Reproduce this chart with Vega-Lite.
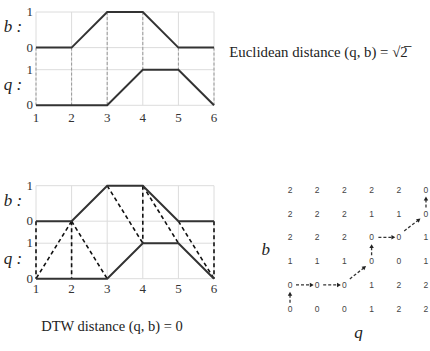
{
  "$schema": "https://vega.github.io/schema/vega-lite/v6.json",
  "background": "white",
  "padding": {"left": 3, "top": 6, "right": 0, "bottom": 0},
  "config": {
    "view": {"stroke": null},
    "font": "Liberation Serif",
    "axis": {"ticks": false, "domain": false}
  },
  "columns": 2,
  "bounds": "flush",
  "spacing": {"row": 79.7, "column": 66.5},
  "datasets": {
    "series": [
      {"series": "b", "t": 1, "v": 0}, {"series": "b", "t": 2, "v": 0}, {"series": "b", "t": 3, "v": 1},
      {"series": "b", "t": 4, "v": 1}, {"series": "b", "t": 5, "v": 0}, {"series": "b", "t": 6, "v": 0},
      {"series": "q", "t": 1, "v": 0}, {"series": "q", "t": 2, "v": 0}, {"series": "q", "t": 3, "v": 0},
      {"series": "q", "t": 4, "v": 1}, {"series": "q", "t": 5, "v": 1}, {"series": "q", "t": 6, "v": 0}
    ],
    "ticks": [{"t": 1}, {"t": 2}, {"t": 3}, {"t": 4}, {"t": 5}, {"t": 6}],
    "levels": [{"level": 0, "lab": "0"}, {"level": 1, "lab": "1"}, {"level": 1.62, "lab": "0"}, {"level": 2.62, "lab": "1"}],
    "euc": [
      {"t": 1, "b": 0, "q": 0}, {"t": 2, "b": 0, "q": 0}, {"t": 3, "b": 1, "q": 0},
      {"t": 4, "b": 1, "q": 1}, {"t": 5, "b": 0, "q": 1}, {"t": 6, "b": 0, "q": 0}
    ],
    "dtw": [
      {"bt": 1, "bv": 0, "qt": 1, "qv": 0}, {"bt": 2, "bv": 0, "qt": 1, "qv": 0},
      {"bt": 2, "bv": 0, "qt": 2, "qv": 0}, {"bt": 2, "bv": 0, "qt": 3, "qv": 0},
      {"bt": 3, "bv": 1, "qt": 4, "qv": 1}, {"bt": 4, "bv": 1, "qt": 4, "qv": 1},
      {"bt": 4, "bv": 1, "qt": 5, "qv": 1}, {"bt": 5, "bv": 0, "qt": 6, "qv": 0},
      {"bt": 6, "bv": 0, "qt": 6, "qv": 0}
    ],
    "names": [{"name": "b :", "level": 2.2}, {"name": "q :", "level": 0.56}],
    "matrix": [
      {"col": 1, "row": 6, "val": 2}, {"col": 2, "row": 6, "val": 2}, {"col": 3, "row": 6, "val": 2}, {"col": 4, "row": 6, "val": 2}, {"col": 5, "row": 6, "val": 2}, {"col": 6, "row": 6, "val": 0},
      {"col": 1, "row": 5, "val": 2}, {"col": 2, "row": 5, "val": 2}, {"col": 3, "row": 5, "val": 2}, {"col": 4, "row": 5, "val": 1}, {"col": 5, "row": 5, "val": 1}, {"col": 6, "row": 5, "val": 0},
      {"col": 1, "row": 4, "val": 2}, {"col": 2, "row": 4, "val": 2}, {"col": 3, "row": 4, "val": 2}, {"col": 4, "row": 4, "val": 0}, {"col": 5, "row": 4, "val": 0}, {"col": 6, "row": 4, "val": 1},
      {"col": 1, "row": 3, "val": 1}, {"col": 2, "row": 3, "val": 1}, {"col": 3, "row": 3, "val": 1}, {"col": 4, "row": 3, "val": 0}, {"col": 5, "row": 3, "val": 0}, {"col": 6, "row": 3, "val": 1},
      {"col": 1, "row": 2, "val": 0}, {"col": 2, "row": 2, "val": 0}, {"col": 3, "row": 2, "val": 0}, {"col": 4, "row": 2, "val": 1}, {"col": 5, "row": 2, "val": 2}, {"col": 6, "row": 2, "val": 2},
      {"col": 1, "row": 1, "val": 0}, {"col": 2, "row": 1, "val": 0}, {"col": 3, "row": 1, "val": 0}, {"col": 4, "row": 1, "val": 1}, {"col": 5, "row": 1, "val": 2}, {"col": 6, "row": 1, "val": 2}
    ],
    "arrows": [
      {"x1": 1, "y1": 1.25, "x2": 1, "y2": 1.63, "dir": "up"},
      {"x1": 1.22, "y1": 2, "x2": 1.8, "y2": 2, "dir": "right"},
      {"x1": 2.22, "y1": 2, "x2": 2.8, "y2": 2, "dir": "right"},
      {"x1": 3.2, "y1": 2.25, "x2": 3.74, "y2": 2.74, "dir": "diag"},
      {"x1": 4, "y1": 3.25, "x2": 4, "y2": 3.63, "dir": "up"},
      {"x1": 4.25, "y1": 4, "x2": 4.8, "y2": 4, "dir": "right"},
      {"x1": 5.2, "y1": 4.27, "x2": 5.74, "y2": 4.74, "dir": "diag"},
      {"x1": 6, "y1": 5.25, "x2": 6, "y2": 5.63, "dir": "up"}
    ]
  },
  "concat": [
    {
      "width": 178,
      "height": 93.3,
      "encoding": {
        "x": {"type": "quantitative", "scale": {"domain": [1, 6], "nice": false, "zero": false}, "axis": null},
        "y": {"type": "quantitative", "scale": {"domain": [0, 2.62], "nice": false, "zero": false}, "axis": null}
      },
      "layer": [
        {
          "data": {"name": "ticks"},
          "mark": {"type": "rule", "color": "#dcdcdc", "strokeWidth": 1},
          "encoding": {"x": {"field": "t", "type": "quantitative"}, "y": {"datum": 0, "type": "quantitative"}, "y2": {"datum": 2.62}}
        },
        {
          "data": {"name": "levels"},
          "mark": {"type": "rule", "color": "#dcdcdc", "strokeWidth": 1},
          "encoding": {"y": {"field": "level", "type": "quantitative"}, "x": {"datum": 1, "type": "quantitative"}, "x2": {"datum": 6}}
        },
        {
          "data": {"name": "euc"},
          "transform": [{"calculate": "datum.b + 1.62", "as": "yb"}],
          "mark": {"type": "rule", "color": "#999", "strokeWidth": 1, "strokeDash": [3, 2]},
          "encoding": {"x": {"field": "t", "type": "quantitative"}, "y": {"field": "yb", "type": "quantitative"}, "y2": {"field": "q"}}
        },
        {
          "data": {"name": "series"},
          "transform": [{"calculate": "datum.v + (datum.series == 'b' ? 1.62 : 0)", "as": "yv"}],
          "mark": {"type": "line", "color": "#333", "strokeWidth": 2},
          "encoding": {"x": {"field": "t", "type": "quantitative"}, "y": {"field": "yv", "type": "quantitative"}, "detail": {"field": "series"}}
        },
        {
          "data": {"name": "ticks"},
          "mark": {"type": "text", "font": "Liberation Serif", "fontSize": 13, "color": "#333", "dy": 13},
          "encoding": {"x": {"field": "t", "type": "quantitative"}, "y": {"datum": 0, "type": "quantitative"}, "text": {"field": "t"}}
        },
        {
          "data": {"name": "levels"},
          "mark": {"type": "text", "font": "Liberation Serif", "fontSize": 13, "color": "#333", "dx": -3, "align": "right"},
          "encoding": {"y": {"field": "level", "type": "quantitative"}, "x": {"datum": 1, "type": "quantitative"}, "text": {"field": "lab"}}
        },
        {
          "data": {"name": "names"},
          "mark": {"type": "text", "font": "Liberation Serif", "fontStyle": "italic", "fontSize": 17, "dx": -23, "color": "#222"},
          "encoding": {"x": {"datum": 1, "type": "quantitative"}, "y": {"field": "level", "type": "quantitative"}, "text": {"field": "name"}}
        }
      ]
    },
    {
      "width": 76,
      "height": 82.6,
      "data": {"values": [{"label": "Euclidean distance (q, b) = √2̅"}]},
      "mark": {"type": "text", "font": "Liberation Serif", "fontSize": 14.8, "color": "#222"},
      "encoding": {"text": {"field": "label"}}
    },
    {
      "width": 178,
      "height": 93,
      "title": {"text": "DTW distance (q, b) = 0", "orient": "bottom", "anchor": "middle", "font": "Liberation Serif", "fontSize": 14.5, "fontWeight": "normal", "color": "#222", "offset": 24, "dx": -13},
      "encoding": {
        "x": {"type": "quantitative", "scale": {"domain": [1, 6], "nice": false, "zero": false}, "axis": null},
        "y": {"type": "quantitative", "scale": {"domain": [0, 2.62], "nice": false, "zero": false}, "axis": null}
      },
      "layer": [
        {
          "data": {"name": "ticks"},
          "mark": {"type": "rule", "color": "#dcdcdc", "strokeWidth": 1},
          "encoding": {"x": {"field": "t", "type": "quantitative"}, "y": {"datum": 0, "type": "quantitative"}, "y2": {"datum": 2.62}}
        },
        {
          "data": {"name": "levels"},
          "mark": {"type": "rule", "color": "#dcdcdc", "strokeWidth": 1},
          "encoding": {"y": {"field": "level", "type": "quantitative"}, "x": {"datum": 1, "type": "quantitative"}, "x2": {"datum": 6}}
        },
        {
          "data": {"name": "dtw"},
          "transform": [{"calculate": "datum.bv + 1.62", "as": "yb"}],
          "mark": {"type": "rule", "color": "#111", "strokeWidth": 1.6, "strokeDash": [4, 3]},
          "encoding": {"x": {"field": "bt", "type": "quantitative"}, "y": {"field": "yb", "type": "quantitative"}, "x2": {"field": "qt"}, "y2": {"field": "qv"}}
        },
        {
          "data": {"name": "series"},
          "transform": [{"calculate": "datum.v + (datum.series == 'b' ? 1.62 : 0)", "as": "yv"}],
          "mark": {"type": "line", "color": "#333", "strokeWidth": 2},
          "encoding": {"x": {"field": "t", "type": "quantitative"}, "y": {"field": "yv", "type": "quantitative"}, "detail": {"field": "series"}}
        },
        {
          "data": {"name": "ticks"},
          "mark": {"type": "text", "font": "Liberation Serif", "fontSize": 13, "color": "#333", "dy": 10},
          "encoding": {"x": {"field": "t", "type": "quantitative"}, "y": {"datum": 0, "type": "quantitative"}, "text": {"field": "t"}}
        },
        {
          "data": {"name": "levels"},
          "mark": {"type": "text", "font": "Liberation Serif", "fontSize": 13, "color": "#333", "dx": -3, "align": "right"},
          "encoding": {"y": {"field": "level", "type": "quantitative"}, "x": {"datum": 1, "type": "quantitative"}, "text": {"field": "lab"}}
        },
        {
          "data": {"name": "names"},
          "mark": {"type": "text", "font": "Liberation Serif", "fontStyle": "italic", "fontSize": 17, "dx": -23, "color": "#222"},
          "encoding": {"x": {"datum": 1, "type": "quantitative"}, "y": {"field": "level", "type": "quantitative"}, "text": {"field": "name"}}
        }
      ]
    },
    {
      "width": 155,
      "height": 134.9,
      "encoding": {
        "x": {"type": "quantitative", "scale": {"domain": [0.65, 6.35], "nice": false, "zero": false},
              "axis": {"title": "q", "labels": false, "grid": false, "titleFont": "Liberation Serif", "titleFontStyle": "italic", "titleFontWeight": "normal", "titleFontSize": 17, "titleColor": "#222", "titlePadding": 4}},
        "y": {"type": "quantitative", "scale": {"domain": [0.5, 6.17], "nice": false, "zero": false},
              "axis": {"title": "b", "labels": false, "grid": false, "titleAngle": 0, "titleAlign": "right", "titleBaseline": "middle", "titleFont": "Liberation Serif", "titleFontStyle": "italic", "titleFontWeight": "normal", "titleFontSize": 17, "titleColor": "#222", "titlePadding": 11, "titleY": 64}}
      },
      "layer": [
        {
          "data": {"name": "arrows"},
          "mark": {"type": "rule", "color": "#333", "strokeWidth": 1.3, "strokeDash": [3, 2]},
          "encoding": {"x": {"field": "x1", "type": "quantitative"}, "y": {"field": "y1", "type": "quantitative"}, "x2": {"field": "x2"}, "y2": {"field": "y2"}}
        },
        {
          "data": {"name": "arrows"},
          "transform": [{"calculate": "datum.dir == 'up' ? 0 : (datum.dir == 'right' ? 90 : 52)", "as": "deg"}],
          "mark": {"type": "point", "shape": "triangle-up", "filled": true, "size": 20, "color": "#222", "opacity": 1},
          "encoding": {"x": {"field": "x2", "type": "quantitative"}, "y": {"field": "y2", "type": "quantitative"}, "angle": {"field": "deg", "type": "quantitative", "scale": null}}
        },
        {
          "data": {"name": "matrix"},
          "mark": {"type": "text", "font": "Liberation Sans", "fontSize": 8.5, "color": "#444"},
          "encoding": {"x": {"field": "col", "type": "quantitative"}, "y": {"field": "row", "type": "quantitative"}, "text": {"field": "val"}}
        }
      ]
    }
  ]
}
